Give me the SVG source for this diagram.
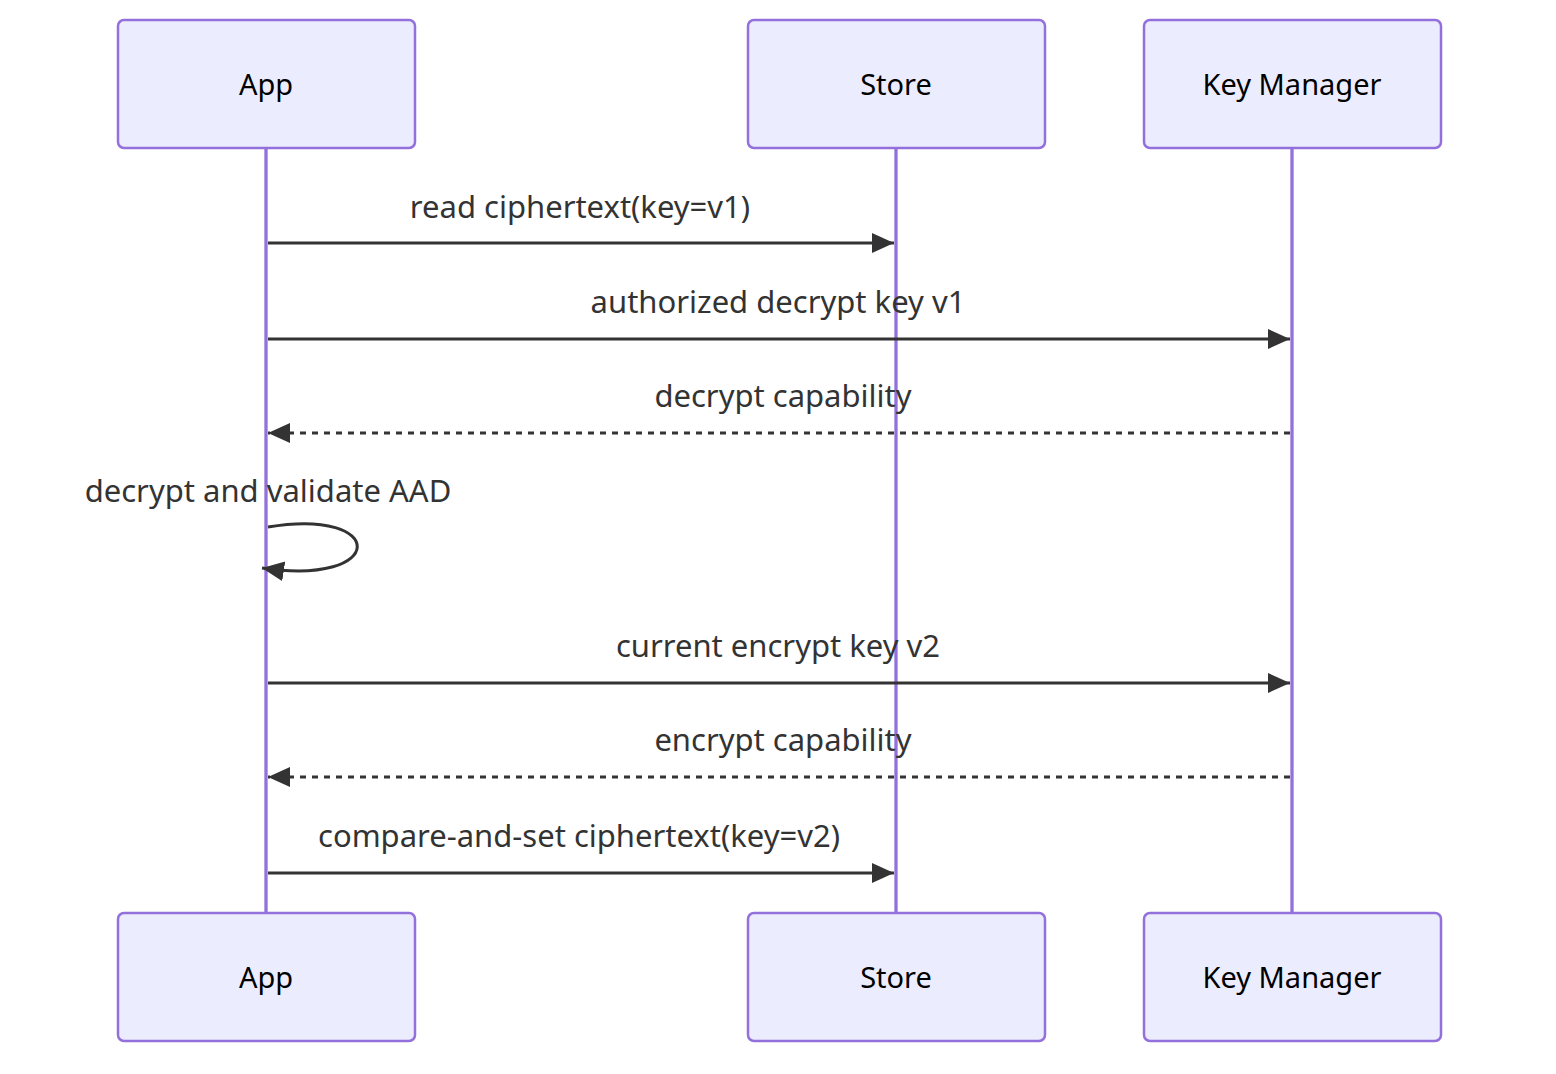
<svg xmlns="http://www.w3.org/2000/svg" width="1556" height="1074" viewBox="0 0 1556 1074">
<defs>
<style>
.actor{fill:#ECECFF;stroke:#9370DB;stroke-width:2.5}
.alabel{font-family:"Noto Sans","DejaVu Sans",sans-serif;font-size:29px;fill:#000;text-anchor:middle}
.life{stroke:#9370DB;stroke-width:3.3}
.msg{stroke:#333;stroke-width:3;fill:none}
.dash{stroke-dasharray:6,6}
.mlabel{font-family:"Noto Sans","DejaVu Sans",sans-serif;font-size:31px;fill:#333;text-anchor:middle}
</style>
<marker id="arrow" markerUnits="userSpaceOnUse" markerWidth="24" markerHeight="22" refX="22" refY="10" orient="auto">
<path d="M0,0 L22,10 L0,20 z" fill="#333"/>
</marker>
</defs>
<rect width="1556" height="1074" fill="#fff"/>
<g id="lifelines">
<line class="life" x1="266" y1="148" x2="266" y2="913"/>
<line class="life" x1="896" y1="148" x2="896" y2="913"/>
<line class="life" x1="1292" y1="148" x2="1292" y2="913"/>
</g>
<g id="actor-app-top"><rect class="actor" x="118" y="20" width="297" height="128" rx="6"/><text class="alabel" x="266" y="95">App</text></g>
<g id="actor-store-top"><rect class="actor" x="748" y="20" width="297" height="128" rx="6"/><text class="alabel" x="896" y="95">Store</text></g>
<g id="actor-km-top"><rect class="actor" x="1144" y="20" width="297" height="128" rx="6"/><text class="alabel" x="1292" y="95">Key Manager</text></g>
<g id="actor-app-bottom"><rect class="actor" x="118" y="913" width="297" height="128" rx="6"/><text class="alabel" x="266" y="988">App</text></g>
<g id="actor-store-bottom"><rect class="actor" x="748" y="913" width="297" height="128" rx="6"/><text class="alabel" x="896" y="988">Store</text></g>
<g id="actor-km-bottom"><rect class="actor" x="1144" y="913" width="297" height="128" rx="6"/><text class="alabel" x="1292" y="988">Key Manager</text></g>
<g id="connectors">
<line class="msg" x1="268" y1="243" x2="894" y2="243" marker-end="url(#arrow)"/>
<text class="mlabel" x="580" y="218">read ciphertext(key=v1)</text>
<line class="msg" x1="268" y1="339" x2="1290" y2="339" marker-end="url(#arrow)"/>
<text class="mlabel" x="778" y="313">authorized decrypt key v1</text>
<line class="msg dash" x1="1290" y1="433" x2="268" y2="433" marker-end="url(#arrow)"/>
<text class="mlabel" x="783" y="407">decrypt capability</text>
<path class="msg" d="M268,527 C388,507 388,587 262,568" marker-end="url(#arrow)"/>
<text class="mlabel" x="268" y="502">decrypt and validate AAD</text>
<line class="msg" x1="268" y1="683" x2="1290" y2="683" marker-end="url(#arrow)"/>
<text class="mlabel" x="778" y="657">current encrypt key v2</text>
<line class="msg dash" x1="1290" y1="777" x2="268" y2="777" marker-end="url(#arrow)"/>
<text class="mlabel" x="783" y="751">encrypt capability</text>
<line class="msg" x1="268" y1="873" x2="894" y2="873" marker-end="url(#arrow)"/>
<text class="mlabel" x="579" y="847">compare-and-set ciphertext(key=v2)</text>
</g>
</svg>
